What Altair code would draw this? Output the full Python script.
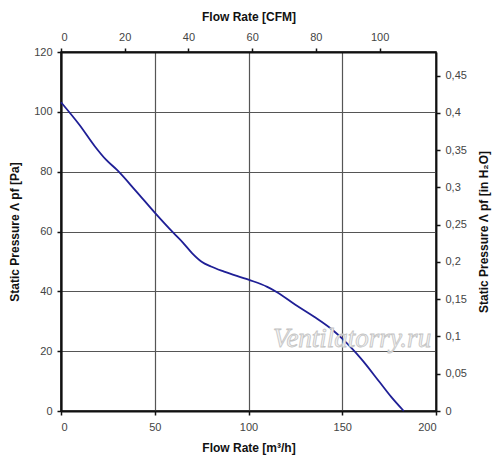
import altair as alt
import pandas as pd

flow_m3h = [0, 10, 18, 24, 30, 40, 50, 60, 65, 70, 75, 80, 87, 100, 110, 115, 125, 135, 145, 150, 155, 160, 170, 176, 182.8]
pressure_pa = [103.2, 95.5, 88.5, 84.0, 80.5, 73.5, 66.3, 59.5, 56.3, 52.7, 49.9, 48.3, 46.6, 43.9, 41.5, 39.8, 35.5, 31.5, 27.0, 24.2, 21.0, 17.5, 9.6, 4.8, 0.0]

x_ticks = [0, 50, 100, 150, 200]
y_ticks = [0, 20, 40, 60, 80, 100, 120]
cfm_ticks = [0, 20, 40, 60, 80, 100]
inh2o_ticks = [0, 0.05, 0.1, 0.15, 0.2, 0.25, 0.3, 0.35, 0.4, 0.45]

M3H_PER_CFM = 1.699
PA_PER_INH2O = 249.09

df = pd.DataFrame({"flow": flow_m3h, "pa": pressure_pa})
df["cfm"] = df["flow"] / M3H_PER_CFM
df["inh2o"] = df["pa"] / PA_PER_INH2O

W, H = 375, 359
FONT = "Liberation Sans"

main = alt.Chart(df).mark_line(color="#1f1f96", strokeWidth=1.8, interpolate="monotone").encode(
    x=alt.X("flow:Q", scale=alt.Scale(domain=[0, 200], nice=False),
            axis=alt.Axis(title="Flow Rate [m³/h]", values=x_ticks, orient="bottom",
                          grid=True, gridColor="#555555", gridWidth=1.2,
                          domainColor="#111111", domainWidth=2.2,
                          tickColor="#111111", tickSize=4, tickWidth=1.5,
                          labelFont=FONT, labelFontSize=11, labelColor="#444444", labelPadding=6,
                          titleFont=FONT, titleFontSize=12, titleFontWeight="bold", titleColor="#111111",
                          titlePadding=10)),
    y=alt.Y("pa:Q", scale=alt.Scale(domain=[0, 120], nice=False),
            axis=alt.Axis(title="Static Pressure Λ pf [Pa]", values=y_ticks, orient="left",
                          grid=True, gridColor="#555555", gridWidth=1.2,
                          domainColor="#111111", domainWidth=2.2,
                          tickColor="#111111", tickSize=4, tickWidth=1.5,
                          labelFont=FONT, labelFontSize=11, labelColor="#444444", labelPadding=5,
                          titleFont=FONT, titleFontSize=12, titleFontWeight="bold", titleColor="#111111",
                          titlePadding=12)),
)

secondary = alt.Chart(df).mark_point(opacity=0).encode(
    x=alt.X("cfm:Q", scale=alt.Scale(domain=[0, 200 / M3H_PER_CFM], nice=False),
            axis=alt.Axis(title="Flow Rate [CFM]", values=cfm_ticks, orient="top",
                          grid=False, domainColor="#111111", domainWidth=1.8,
                          tickColor="#111111", tickSize=4, tickWidth=1.5,
                          labelFont=FONT, labelFontSize=11, labelColor="#444444", labelPadding=6,
                          titleFont=FONT, titleFontSize=12, titleFontWeight="bold", titleColor="#111111",
                          titlePadding=8)),
    y=alt.Y("inh2o:Q", scale=alt.Scale(domain=[0, 120 / PA_PER_INH2O], nice=False),
            axis=alt.Axis(title="Static Pressure Λ pf [in H₂O]", values=inh2o_ticks, orient="right",
                          labelExpr="replace(format(datum.value, '.2~f'), '.', ',')",
                          grid=False, domainColor="#111111", domainWidth=1.8,
                          tickColor="#111111", tickSize=4, tickWidth=1.5,
                          labelFont=FONT, labelFontSize=11, labelColor="#444444", labelPadding=5,
                          titleFont=FONT, titleFontSize=12, titleFontWeight="bold", titleColor="#111111",
                          titleAngle=270, titleBaseline="top", titlePadding=12)),
)

watermark = alt.Chart(pd.DataFrame({"t": ["Ventilatorry.ru"]})).mark_text(
    font="Liberation Serif", fontSize=27, fontStyle="italic", fill="#f2f2f2",
    stroke="#c4c4c4", strokeWidth=0.8, align="center", baseline="alphabetic"
).encode(text="t:N", x=alt.value(291), y=alt.value(295))

chart = alt.layer(main, secondary, watermark).resolve_scale(
    x="independent", y="independent"
).properties(
    width=W, height=H,
    autosize=alt.AutoSizeParams(type="none"),
    padding={"left": 53, "top": 44, "right": 56, "bottom": 54},
    background="white",
).configure_view(stroke="#111111", strokeWidth=1.5)

chart.save("out.html", embed_options={"renderer": "svg", "actions": False})
